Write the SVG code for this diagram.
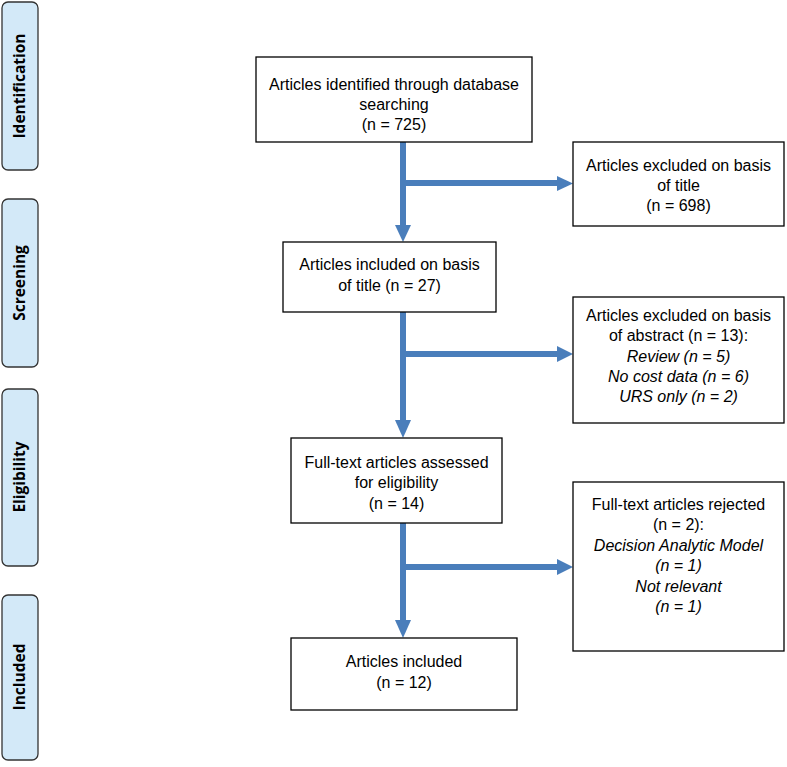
<svg xmlns="http://www.w3.org/2000/svg" width="787" height="767" viewBox="0 0 787 767">
<defs>
<style>
.phase{fill:#d3e9f8;stroke:#333;stroke-width:1.3}
.pt{font-family:"Open Sans","Liberation Sans",sans-serif;font-weight:bold;font-size:15.5px;fill:#000;text-anchor:middle}
.box{fill:#fff;stroke:#000;stroke-width:1.3}
.t{font-family:"Liberation Sans",Arial,sans-serif;font-size:16px;fill:#000;text-anchor:middle}
.i{font-style:italic}
.c{stroke:#4a7ebb;stroke-width:6;fill:none}
.h{fill:#4a7ebb}
</style>
</defs>
<rect width="787" height="767" fill="#fff"/>
<g id="phase-identification"><rect class="phase" x="2" y="2" width="36" height="168" rx="6"/><text class="pt" transform="translate(25,86) rotate(-90)">Identification</text></g>
<g id="phase-screening"><rect class="phase" x="2" y="199" width="36" height="168" rx="6"/><text class="pt" transform="translate(25,283) rotate(-90)">Screening</text></g>
<g id="phase-eligibility"><rect class="phase" x="2" y="389" width="36" height="177" rx="6"/><text class="pt" transform="translate(25,477) rotate(-90)">Eligibility</text></g>
<g id="phase-included"><rect class="phase" x="2" y="595" width="36" height="165" rx="6"/><text class="pt" transform="translate(25,677) rotate(-90)">Included</text></g>

<g id="connectors">
<path class="c" d="M403,142 V225 M403,183 H557"/>
<polygon class="h" points="395,225 411,225 403,242"/>
<polygon class="h" points="557,176 557,191 573,183.5"/>
<path class="c" d="M403,312 V420 M403,354 H557"/>
<polygon class="h" points="395,420 411,420 403,438"/>
<polygon class="h" points="557,346 557,362 573,354"/>
<path class="c" d="M403,523 V620 M403,567 H557"/>
<polygon class="h" points="395,620 411,620 403,638"/>
<polygon class="h" points="557,559 557,575 573,567"/>
</g>

<g id="n1"><rect class="box" x="256" y="57" width="276" height="85"/>
<text class="t" x="394" y="90">Articles identified through database</text>
<text class="t" x="394" y="110">searching</text>
<text class="t" x="394" y="130">(n = 725)</text></g>
<g id="n2"><rect class="box" x="573" y="142" width="211" height="84"/>
<text class="t" x="678.5" y="171">Articles excluded on basis</text>
<text class="t" x="678.5" y="191">of title</text>
<text class="t" x="678.5" y="211">(n = 698)</text></g>
<g id="n3"><rect class="box" x="283" y="242" width="213" height="70"/>
<text class="t" x="389.5" y="270">Articles included on basis</text>
<text class="t" x="389.5" y="291">of title (n = 27)</text></g>
<g id="n4"><rect class="box" x="573" y="297" width="211" height="126"/>
<text class="t" x="678.5" y="321">Articles excluded on basis</text>
<text class="t" x="678.5" y="341">of abstract (n = 13):</text>
<text class="t i" x="678.5" y="362">Review (n = 5)</text>
<text class="t i" x="678.5" y="382">No cost data (n = 6)</text>
<text class="t i" x="678.5" y="402">URS only (n = 2)</text></g>
<g id="n5"><rect class="box" x="291" y="438" width="211" height="85"/>
<text class="t" x="396.5" y="468">Full-text articles assessed</text>
<text class="t" x="396.5" y="488">for eligibility</text>
<text class="t" x="396.5" y="509">(n = 14)</text></g>
<g id="n6"><rect class="box" x="573" y="482" width="211" height="169"/>
<text class="t" x="678.5" y="510">Full-text articles rejected</text>
<text class="t" x="678.5" y="530">(n = 2):</text>
<text class="t i" x="678.5" y="551">Decision Analytic Model</text>
<text class="t i" x="678.5" y="571">(n = 1)</text>
<text class="t i" x="678.5" y="592">Not relevant</text>
<text class="t i" x="678.5" y="612">(n = 1)</text></g>
<g id="n7"><rect class="box" x="291" y="638" width="226" height="72"/>
<text class="t" x="404" y="667">Articles included</text>
<text class="t" x="404" y="688">(n = 12)</text></g>
</svg>
